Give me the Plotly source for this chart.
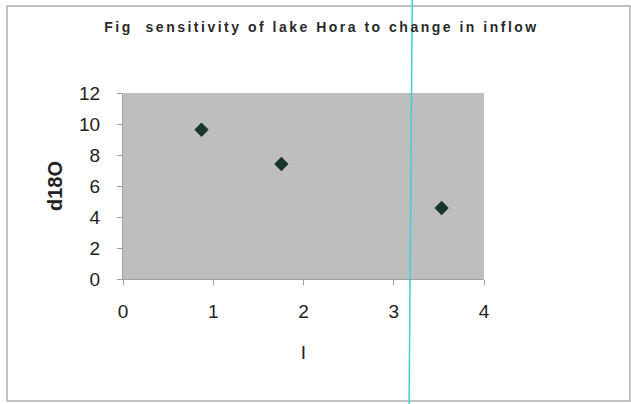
import plotly.graph_objects as go

# Data
inflow_I = [0.87, 1.755, 3.53]
d18O = [9.63, 7.42, 4.58]
x_ticks = [0, 1, 2, 3, 4]
y_ticks = [0, 2, 4, 6, 8, 10, 12]
title_text = "Fig  sensitivity of lake Hora to change in inflow"
x_title = "I"
y_title = "d18O"
marker_line_x = 3.19

fig = go.Figure()
fig.add_trace(go.Scatter(
    x=inflow_I, y=d18O, mode="markers",
    marker=dict(symbol="diamond", size=11, color="#17362c",
                line=dict(width=0)),
    showlegend=False,
))

W, H = 631, 404
L, R, T, B = 123, 147, 93, 125
fig.update_layout(
    width=W, height=H,
    margin=dict(l=L, r=R, t=T, b=B, autoexpand=False),
    paper_bgcolor="white",
    plot_bgcolor="#bebebe",
    font=dict(family="Liberation Sans, Arial, sans-serif", color="#222222"),
    title=dict(text=f"<b>{title_text}</b>", x=321.5 / W, xanchor="center",
               y=1 - 27 / H, yanchor="middle", xref="container", yref="container",
               font=dict(family="Liberation Sans, Arial, sans-serif", size=14, color="#2a2a2a")),
)
fig.update_xaxes(
    range=[0, 4], tickvals=x_ticks, ticktext=[str(v) for v in x_ticks],
    showgrid=False, zeroline=False, showline=True, linecolor="#a0a0a0", linewidth=1,
    ticks="outside", ticklen=5, tickcolor="#a0a0a0", automargin=False,
    tickfont=dict(size=19, color="#222222"), ticklabelstandoff=10,
    title=dict(text=x_title, font=dict(size=19, color="#222222"), standoff=24),
)
fig.update_yaxes(
    range=[0, 12], tickvals=y_ticks, ticktext=[str(v) for v in y_ticks],
    showgrid=False, zeroline=False, showline=True, linecolor="#a0a0a0", linewidth=1,
    ticks="outside", ticklen=5, tickcolor="#a0a0a0", automargin=False,
    tickfont=dict(size=19, color="#222222"), ticklabelstandoff=13,
    title=dict(text=f"<b>{y_title}</b>", font=dict(size=20, color="#222222"), standoff=11),
)

# chart-area border (in paper coordinates relative to plot area)
pw = W - L - R
ph = H - T - B
def px_to_paper_x(px):
    return (px - L) / pw
def py_to_paper_y(py):
    return (H - B - py) / ph

fig.add_shape(type="rect", xref="paper", yref="paper",
              x0=px_to_paper_x(7), x1=px_to_paper_x(630),
              y0=py_to_paper_y(401), y1=py_to_paper_y(6),
              line=dict(color="#b0b0b0", width=1.5), fillcolor="rgba(0,0,0,0)",
              layer="below")

# cyan vertical line across the whole image
fig.add_shape(type="line", xref="x", yref="paper",
              x0=marker_line_x + 0.015, x1=marker_line_x - 0.02,
              y0=py_to_paper_y(0), y1=py_to_paper_y(404),
              line=dict(color="#3fcfd6", width=1.5))

post = """
document.body.style.margin='0';
document.body.style.overflow='hidden';
var t=document.querySelectorAll('.gtitle');
t.forEach(function(e){e.style.letterSpacing='2.5px';});
"""
fig.write_html("out.html", post_script=post, config={"displayModeBar": False})
